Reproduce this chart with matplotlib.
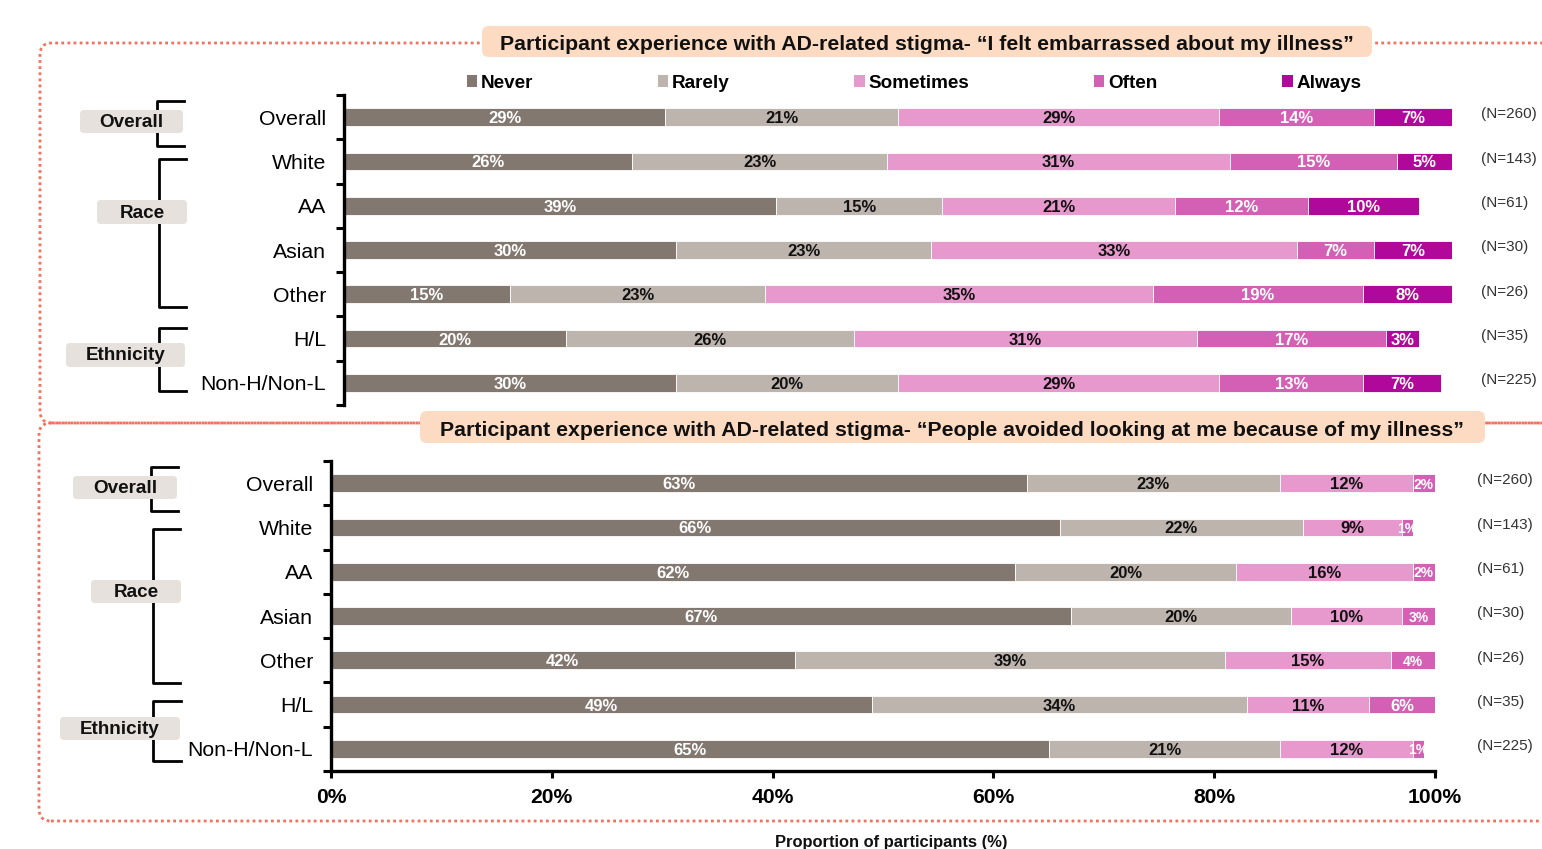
import numpy as np
import matplotlib.pyplot as plt
from matplotlib.patches import FancyBboxPatch, Patch
from matplotlib.lines import Line2D

plt.rcParams["font.family"] = ["Liberation Sans", "DejaVu Sans"]

W, H = 1542, 849

categories = ["Overall", "White", "AA", "Asian", "Other", "H/L", "Non-H/Non-L"]
n_labels = ["(N=260)", "(N=143)", "(N=61)", "(N=30)", "(N=26)", "(N=35)", "(N=225)"]
responses = ["Never", "Rarely", "Sometimes", "Often", "Always"]
colors = ["#837870", "#BDB4AE", "#E798CC", "#D460B5", "#B0089B"]
label_colors = ["white", "#111111", "#111111", "white", "white"]

# "I felt embarrassed about my illness" (% per response, rows = categories)
embarrassed_never = [29, 26, 39, 30, 15, 20, 30]
embarrassed_rarely = [21, 23, 15, 23, 23, 26, 20]
embarrassed_sometimes = [29, 31, 21, 33, 35, 31, 29]
embarrassed_often = [14, 15, 12, 7, 19, 17, 13]
embarrassed_always = [7, 5, 10, 7, 8, 3, 7]

# "People avoided looking at me because of my illness"
avoided_never = [63, 66, 62, 67, 42, 49, 65]
avoided_rarely = [23, 22, 20, 20, 39, 34, 21]
avoided_sometimes = [12, 9, 16, 10, 15, 11, 12]
avoided_often = [2, 1, 2, 3, 4, 6, 1]
avoided_always = [0, 0, 0, 0, 0, 0, 0]

title_top = "Participant experience with AD-related stigma- \u201cI felt embarrassed about my illness\u201d"
title_bot = "Participant experience with AD-related stigma- \u201cPeople avoided looking at me because of my illness\u201d"
group_names = ["Overall", "Race", "Ethnicity"]


def px(x, y):
    # pixel position (top-left origin) -> inches for fig.dpi_scale_trans
    return x / 100.0, (H - y) / 100.0


fig = plt.figure(figsize=(W / 100, H / 100), dpi=100)
tr = fig.dpi_scale_trans


def rounded_box(x0, y0, x1, y1, **kw):
    (a, b) = px(x0, y1)
    w = (x1 - x0) / 100.0
    h = (y1 - y0) / 100.0
    p = FancyBboxPatch((a, b), w, h, transform=tr, **kw)
    fig.add_artist(p)
    return p


# dotted frames
frame_kw = dict(boxstyle="round,pad=0,rounding_size=0.12", fc="none",
                ec="#F2705C", lw=2.0, linestyle=(0, (1, 1.2)), zorder=0)
rounded_box(40, 43, 1600, 423, **frame_kw)
rounded_box(39, 423, 1600, 821, **frame_kw)

# title boxes
title_kw = dict(boxstyle="round,pad=0,rounding_size=0.07", fc="#FDDAC2", ec="none", zorder=2)
rounded_box(482, 26, 1372, 57, **title_kw)
rounded_box(420, 411, 1485, 443, **title_kw)
fig.text(*px(927, 42), title_top, transform=tr, ha="center", va="center_baseline",
         fontsize=15.3, fontweight="bold", color="#111111", zorder=3)
fig.text(*px(952, 428), title_bot, transform=tr, ha="center", va="center_baseline",
         fontsize=15.3, fontweight="bold", color="#111111", zorder=3)


def draw_panel(ax, data, n_x, small_font):
    y = np.arange(len(categories))
    left = np.zeros(len(categories))
    for k, vals in enumerate(data):
        vals = np.array(vals, dtype=float)
        ax.barh(y, vals, left=left, height=0.4, color=colors[k],
                edgecolor="white", linewidth=0.6)
        for i, v in enumerate(vals):
            if v <= 0:
                continue
            fs = 10 if (small_font and v < 5) else 12
            ax.text(left[i] + v / 2, y[i], f"{int(v)}%", ha="center", va="center_baseline",
                    fontsize=fs, fontweight="bold", color=label_colors[k])
        left += vals
    for i, lab in enumerate(n_labels):
        ax.text(n_x, y[i] - 0.06, lab, ha="left", va="center", fontsize=11,
                color="#333333", clip_on=False)
    ax.set_xlim(0, 100)
    ax.set_ylim(len(categories) - 0.5, -0.5)
    ax.set_yticks(np.arange(-0.5, len(categories), 1.0))
    ax.set_yticklabels([])
    ax.set_yticks(y, minor=True)
    ax.set_yticklabels(categories, minor=True, fontsize=15.3)
    ax.tick_params(axis="y", which="major", length=6, width=2.2, direction="out")
    ax.tick_params(axis="y", which="minor", length=0, pad=13)
    for s in ["top", "right"]:
        ax.spines[s].set_visible(False)
    ax.spines["left"].set_linewidth(2.4)


top_data = [embarrassed_never, embarrassed_rarely, embarrassed_sometimes,
            embarrassed_often, embarrassed_always]
bot_data = [avoided_never, avoided_rarely, avoided_sometimes, avoided_often, avoided_always]

ax_top = fig.add_axes([344 / W, 1 - 405 / H, (1452 - 344) / W, 310 / H])
draw_panel(ax_top, top_data, 102.6, False)
ax_top.spines["bottom"].set_visible(False)
ax_top.set_xticks([])

ax_bot = fig.add_axes([331 / W, 1 - 771 / H, (1435 - 331) / W, 310 / H])
draw_panel(ax_bot, bot_data, 103.8, True)
ax_bot.spines["bottom"].set_linewidth(2.4)
ax_bot.set_xticks(np.arange(0, 101, 20))
ax_bot.set_xticklabels([f"{t}%" for t in range(0, 101, 20)], fontsize=15.2, fontweight="bold")
ax_bot.tick_params(axis="x", length=5, width=2.2, pad=7)

fig.text(*px(891, 842), "Proportion of participants (%)", transform=tr, ha="center",
         va="center", fontsize=11.9, fontweight="bold", color="#111111")

# legend
handles = [Patch(facecolor=c, edgecolor="none", label=r) for c, r in zip(colors, responses)]
fig.legend(handles=handles, loc="center", bbox_to_anchor=(914 / W, 1 - 83 / H), ncol=5,
           frameon=False, prop=dict(weight="bold", size=13.6), handlelength=0.55,
           handleheight=0.55, handletextpad=0.2, columnspacing=6.6)

# group brackets and labels: (x_vertical, y_top, y_bottom, x_end) and label box
brackets_top = [(157, 101, 146, 184), (159, 159, 307, 186), (159, 328, 391, 186)]
boxes_top = [(80, 110, 183, 133), (97, 200, 187, 224), (66, 343, 185, 367)]
brackets_bot = [(151, 467, 511, 178), (153, 529, 683, 180), (153, 701, 761, 181)]
boxes_bot = [(73, 476, 177, 499), (91, 580, 181, 603), (60, 717, 180, 740)]

for brackets, boxes in [(brackets_top, boxes_top), (brackets_bot, boxes_bot)]:
    for name, (xv, y0, y1, xe), (bx0, by0, bx1, by1) in zip(group_names, brackets, boxes):
        pts = [px(xe, y0), px(xv, y0), px(xv, y1), px(xe, y1)]
        fig.add_artist(Line2D([p[0] for p in pts], [p[1] for p in pts], transform=tr,
                              color="black", lw=2.0, zorder=1))
        rounded_box(bx0, by0, bx1, by1, boxstyle="round,pad=0,rounding_size=0.04",
                    fc="#E6E1DC", ec="none", zorder=2)
        fig.text(*px((bx0 + bx1) / 2, (by0 + by1) / 2 + 1), name, transform=tr,
                 ha="center", va="center", fontsize=13.6, fontweight="bold",
                 color="#111111", zorder=3)

fig.savefig("out.png", dpi=100)
